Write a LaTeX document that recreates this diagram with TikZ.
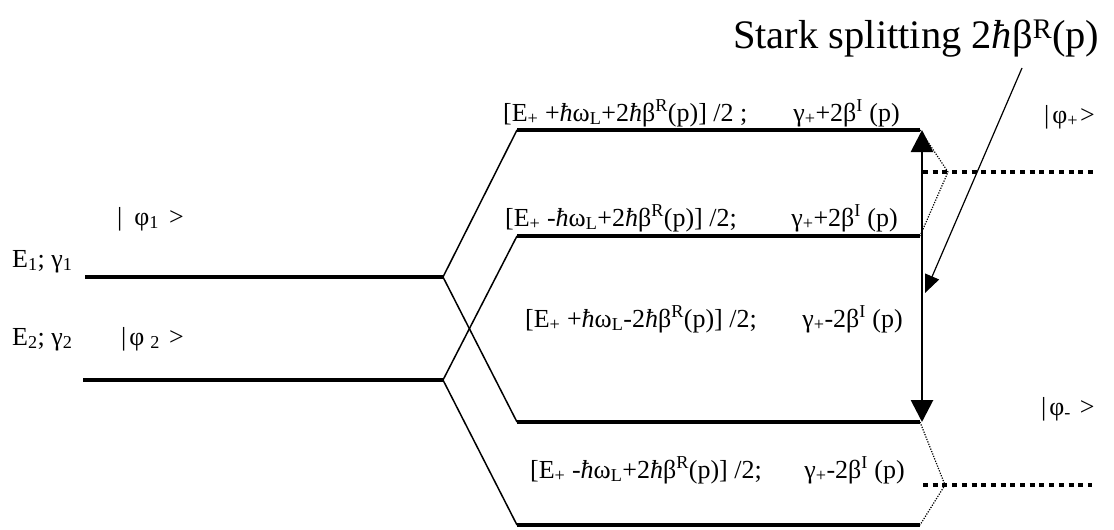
\documentclass[tikz,border=0pt]{standalone}
\usepackage{fontspec}
\setmainfont{Liberation Serif}
\usetikzlibrary{arrows.meta}
\newcommand{\hb}{\textit{ħ}}
\tikzset{
  level/.style={line width=3.2pt},
  link/.style={line width=1.5pt},
  bigdots/.style={line width=4pt, dash pattern=on 5pt off 4.7pt},
  thindots/.style={line width=1.2pt, dash pattern=on 1.2pt off 1.4pt},
  lbl/.style={inner sep=0pt, font=\fontsize{26}{30}\selectfont},
  splitarrow/.style={line width=2.8pt, {Triangle[length=22pt,width=22pt]}-{Triangle[length=22pt,width=22pt]}},
  leader/.style={line width=1.2pt, -{Triangle[length=18pt,width=15pt]}}
}
\begin{document}
\begin{tikzpicture}[x=1pt,y=-1pt]
\useasboundingbox (0,0) rectangle (1114,530);
% coordinates
\coordinate (E1l) at (85,277);  \coordinate (E1r) at (443,277);
\coordinate (E2l) at (83,380);  \coordinate (E2r) at (443,380);
\coordinate (Al) at (517,130);  \coordinate (Ar) at (920,130);
\coordinate (Bl) at (517,236);  \coordinate (Br) at (920,236);
\coordinate (Cl) at (517,422);  \coordinate (Cr) at (920,422);
\coordinate (Dl) at (517,525);  \coordinate (Dr) at (920,525);
\coordinate (up) at (948,172);  \coordinate (upe) at (1093,172);
\coordinate (lo) at (945,485);  \coordinate (loe) at (1092,485);
\coordinate (ax) at (922,130);  \coordinate (bx) at (922,422);
\coordinate (ls) at (1022,68);  \coordinate (lt) at (925,293);
% levels
\draw[level] (E1l) -- (E1r);
\draw[level] (E2l) -- (E2r);
\draw[level] (Al) -- (Ar);
\draw[level] (Bl) -- (Br);
\draw[level] (Cl) -- (Cr);
\draw[level] (Dl) -- (Dr);
% links
\draw[link] (Al) -- (E1r) -- (Cl);
\draw[link] (Bl) -- (E2r) -- (Dl);
% dotted
\draw[thindots] (Ar) -- (up) -- (Br);
\draw[thindots] (Cr) -- (lo) -- (Dr);
\draw[bigdots] (923,172) -- (upe);
\draw[bigdots] (923,485) -- (loe);
% arrows
\draw[splitarrow] (ax) -- (bx);
\draw[leader] (ls) -- (lt);
% labels
\node[lbl, anchor=base west] (t1a) at (503,121) {[E\textsubscript{+} +\hb ω\textsubscript{L}+2\hb β\textsuperscript{R}(p)] /2 ;};
\node[lbl, anchor=base east] (t1b) at (900,121) {γ\textsubscript{+}+2β\textsuperscript{I} (p)};
\node[lbl, anchor=base west] (t2a) at (505,226) {[E\textsubscript{+} -\hb ω\textsubscript{L}+2\hb β\textsuperscript{R}(p)] /2;};
\node[lbl, anchor=base east] (t2b) at (898,226) {γ\textsubscript{+}+2β\textsuperscript{I} (p)};
\node[lbl, anchor=base west] (t3a) at (525,327) {[E\textsubscript{+} +\hb ω\textsubscript{L}-2\hb β\textsuperscript{R}(p)] /2;};
\node[lbl, anchor=base east] (t3b) at (903,327) {γ\textsubscript{+}-2β\textsuperscript{I} (p)};
\node[lbl, anchor=base west] (t4a) at (530,478) {[E\textsubscript{+} -\hb ω\textsubscript{L}+2\hb β\textsuperscript{R}(p)] /2;};
\node[lbl, anchor=base east] (t4b) at (905,478) {γ\textsubscript{+}-2β\textsuperscript{I} (p)};
\node[lbl, anchor=base west] (e1) at (12,267) {E\textsubscript{1}; γ\textsubscript{1}};
\node[lbl, anchor=base west] (e2) at (12,345) {E\textsubscript{2}; γ\textsubscript{2}};
\node[lbl, anchor=base west] (p1) at (117,225) {|\hspace{12pt}φ\textsubscript{1}\hspace{10pt}>};
\node[lbl, anchor=base west] (p2) at (121,345) {|\hspace{3pt}φ\hspace{6pt}\textsubscript{2}\hspace{9pt}>};
\node[lbl, anchor=base west] (pp) at (1044,123) {|\hspace{3pt}φ\textsubscript{+}\hspace{2pt}>};
\node[lbl, anchor=base west] (pm) at (1041,415) {|\hspace{3pt}φ\textsubscript{-}\hspace{9pt}>};
\node[inner sep=0pt, anchor=base west, font=\fontsize{40.5}{46}\selectfont] (stark) at (733,48) {Stark splitting 2\hb β\textsuperscript{R}(p)};
\end{tikzpicture}
\end{document}
